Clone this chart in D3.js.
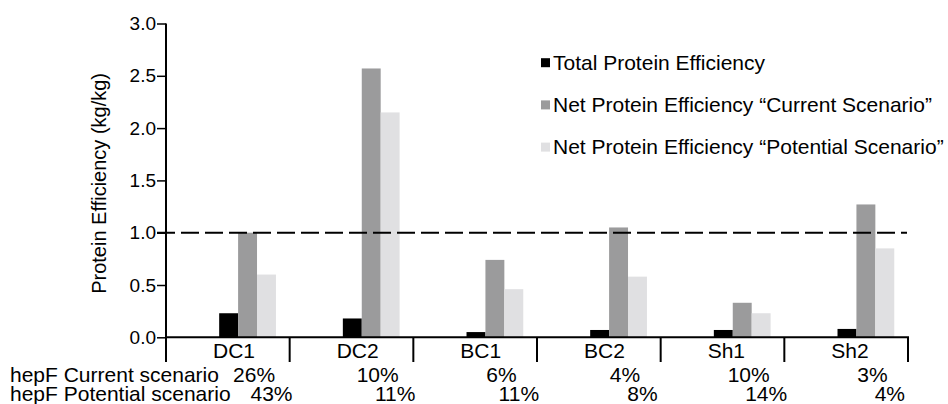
<!DOCTYPE html>
<html>
<head>
<meta charset="utf-8">
<script src="https://cdn.jsdelivr.net/npm/d3@7"></script>
<style>
    body { margin: 0; background: #fff; }
    svg text { font-family: "Liberation Sans", Arial, sans-serif; fill: #000; }
</style>
</head>
<body>
<svg id="chart" width="948" height="404"></svg>
<script>
// values
const categories = ['DC1', 'DC2', 'BC1', 'BC2', 'Sh1', 'Sh2']
const totalProtein = [0.23, 0.18, 0.05, 0.07, 0.07, 0.08]
const netCurrent = [1.00, 2.57, 0.74, 1.05, 0.33, 1.27]
const netPotential = [0.60, 2.15, 0.46, 0.58, 0.23, 0.85]
const hepfCurrent = ['26%', '10%', '6%', '4%', '10%', '3%']
const hepfPotential = ['43%', '11%', '11%', '8%', '14%', '4%']
const seriesNames = [
    'Total Protein Efficiency',
    'Net Protein Efficiency \u201cCurrent Scenario\u201d',
    'Net Protein Efficiency \u201cPotential Scenario\u201d'
]
const seriesColors = ['#000000', '#9b9b9c', '#e0e0e2']
const yTicks = [0, 0.5, 1.0, 1.5, 2.0, 2.5, 3.0]
const referenceLine = 1.0
const rowLabels = ['hepF Current scenario', 'hepF Potential scenario']

const seriesValues = [totalProtein, netCurrent, netPotential]

const svg = d3.select('#chart')

const x = d3.scaleBand()
    .domain(categories)
    .range([166, 908])
    .padding(0)

const y = d3.scaleLinear()
    .domain([0, 3])
    .range([337.3, 23.5])

const bw = x.bandwidth()
const barW = bw * 0.153
const barStart = bw * 0.43

// bars
seriesValues.forEach((vals, i) => {
    svg.append('g')
        .selectAll('rect')
        .data(categories.map((c, j) => ({cat: c, value: vals[j]})))
        .join('rect')
        .attr('x', d => x(d.cat) + barStart + i * barW)
        .attr('y', d => y(d.value))
        .attr('width', barW)
        .attr('height', d => y(0) - y(d.value))
        .attr('fill', seriesColors[i])
})

// dashed reference line
svg.append('line')
    .attr('x1', 157)
    .attr('x2', 907)
    .attr('y1', y(referenceLine))
    .attr('y2', y(referenceLine))
    .attr('stroke', '#000')
    .attr('stroke-width', 2)
    .attr('stroke-dasharray', '18,6')

// y axis
const yAxis = svg.append('g')
    .attr('transform', 'translate(166,0)')
    .call(d3.axisLeft(y).tickValues(yTicks).tickFormat(d3.format('.1f')).tickSize(9).tickSizeOuter(0).tickPadding(1))
yAxis.select('.domain').remove()
yAxis.selectAll('.tick line').attr('stroke', '#000').attr('stroke-width', 1.5)
yAxis.selectAll('.tick text')
    .style('font-family', '"Liberation Sans", Arial, sans-serif')
    .style('font-size', '19px')
    .attr('fill', '#000')

svg.append('line')
    .attr('x1', 166).attr('x2', 166)
    .attr('y1', y(3)).attr('y2', y(0))
    .attr('stroke', '#000').attr('stroke-width', 2)

// x axis with separators between groups
svg.append('line')
    .attr('x1', 165).attr('x2', 909)
    .attr('y1', y(0)).attr('y2', y(0))
    .attr('stroke', '#000').attr('stroke-width', 2)

const bounds = categories.map(c => x(c)).concat([x.range()[1]])
svg.append('g')
    .selectAll('line')
    .data(bounds)
    .join('line')
    .attr('x1', d => d).attr('x2', d => d)
    .attr('y1', y(0)).attr('y2', 362)
    .attr('stroke', '#000').attr('stroke-width', 2)

svg.append('g')
    .selectAll('text')
    .data(categories)
    .join('text')
    .attr('x', d => x(d) + bw * 0.38)
    .attr('y', 358)
    .style('font-size', '21px')
    .text(d => d)

// y axis title
svg.append('text')
    .attr('transform', 'translate(106,' + ((y(0) + y(3)) / 2 + 3) + ')rotate(-90)')
    .attr('text-anchor', 'middle')
    .style('font-size', '20px')
    .text('Protein Efficiency (kg/kg)')

// hepF rows under the axis
const rows = [
    {label: rowLabels[0], vals: hepfCurrent, off: 0.712, yy: 381.7},
    {label: rowLabels[1], vals: hepfPotential, off: 0.853, yy: 400.5}
]
rows.forEach(r => {
    svg.append('text')
        .attr('x', 10)
        .attr('y', r.yy)
        .style('font-size', '21px')
        .text(r.label)
    svg.append('g')
        .selectAll('text')
        .data(categories.map((c, j) => ({cat: c, txt: r.vals[j]})))
        .join('text')
        .attr('x', d => x(d.cat) + bw * r.off)
        .attr('y', r.yy)
        .attr('text-anchor', 'middle')
        .style('font-size', '21px')
        .text(d => d.txt)
})

// legend
const legend = svg.append('g')
    .selectAll('g')
    .data(seriesNames)
    .join('g')
    .attr('transform', (d, i) => 'translate(541,' + (62.7 + i * 42.2) + ')')
legend.append('rect')
    .attr('x', 0).attr('y', -4.5)
    .attr('width', 9).attr('height', 9)
    .attr('fill', (d, i) => seriesColors[i])
legend.append('text')
    .attr('x', 12)
    .attr('y', 7)
    .style('font-size', '21px')
    .text(d => d)
</script>
</body>
</html>
